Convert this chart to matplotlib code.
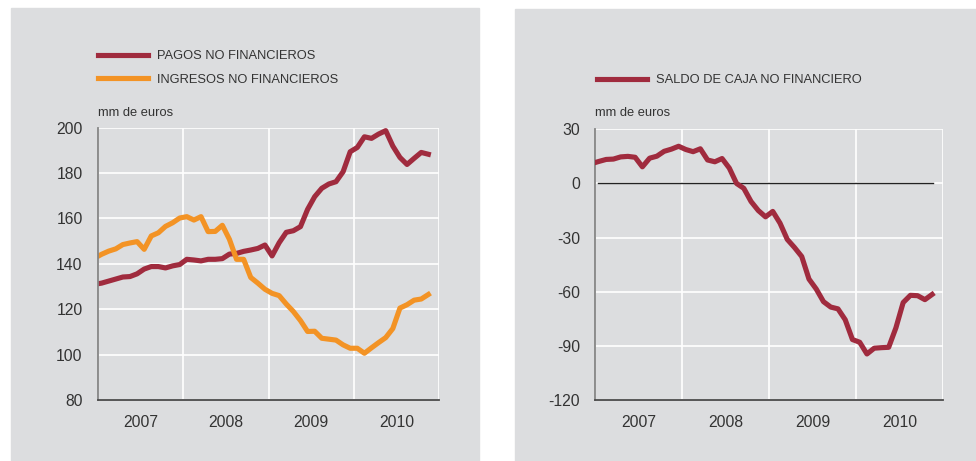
import matplotlib
matplotlib.use("Agg")
import matplotlib.pyplot as plt
from matplotlib.patches import Rectangle
import numpy as np

# monthly data, Dec 2006 .. Nov 2010 (mm de euros)
months = [f"{y}-{m:02d}" for y, m in [(2006, 12)] + [(y, m) for y in range(2007, 2011) for m in range(1, 13)]][:48]

pagos = [131.0,
         131.5, 132.4, 133.3, 134.2, 134.4, 135.6, 137.7, 138.8, 138.8, 138.2, 139.1, 139.7,
         142.0, 141.7, 141.3, 142.0, 142.0, 142.3, 144.3, 144.6, 145.5, 146.1, 146.8, 148.3,
         143.5, 149.3, 153.9, 154.6, 156.4, 164.0, 169.6, 173.3, 175.2, 176.2, 180.6, 189.4,
         191.3, 196.0, 195.3, 197.2, 198.7, 191.9, 186.9, 183.8, 186.5, 189.1, 188.3]

ingresos = [142.5,
            144.2, 145.6, 146.6, 148.5, 149.2, 149.8, 146.4, 152.3, 153.7, 156.5, 158.1, 160.2,
            160.8, 159.3, 160.8, 154.2, 154.3, 157.0, 150.8, 142.0, 142.0, 134.0, 131.5, 128.8,
            127.0, 126.0, 122.3, 119.0, 115.0, 110.2, 110.3, 107.2, 106.8, 106.4, 104.3, 102.8,
            102.8, 100.6, 103.0, 105.3, 107.5, 111.5, 120.5, 122.0, 124.0, 124.5, 126.5]

saldo = [11.0,
         12.2, 13.3, 13.5, 14.7, 15.0, 14.5, 9.2, 14.0, 15.1, 17.8, 19.0, 20.6,
         18.8, 17.6, 19.2, 13.0, 12.0, 13.8, 8.5, 0.0, -2.7, -10.0, -15.0, -18.5,
         -15.5, -22.0, -31.0, -35.5, -40.5, -53.0, -58.5, -65.5, -68.5, -69.5, -75.5, -86.5,
         -88.0, -94.5, -91.3, -91.0, -90.8, -80.0, -66.0, -62.0, -62.2, -64.4, -61.5]

years = ["2007", "2008", "2009", "2010"]
left_ticks = [80, 100, 120, 140, 160, 180, 200]
right_ticks = [-120, -90, -60, -30, 0, 30]

RED = "#A02B3E"
ORANGE = "#F39325"
PANEL = "#DCDDDF"
TEXT = "#333333"

plt.rcParams.update({
    "font.family": ["Liberation Sans", "DejaVu Sans"],
    "font.size": 11,
})

fig = plt.figure(figsize=(9.76, 4.61), dpi=100)
fig.patch.set_facecolor("white")
W, H = 976, 461
fig.patches.append(Rectangle((11 / W, 0), (479 - 11) / W, (461 - 8) / H,
                             transform=fig.transFigure, color=PANEL, zorder=-10))
fig.patches.append(Rectangle((515 / W, 0), (W - 515) / W, (461 - 9) / H,
                             transform=fig.transFigure, color=PANEL, zorder=-10))

x = np.arange(len(months)) - 0.5


def style_axes(ax, ticks):
    ax.set_facecolor("none")
    ax.set_xlim(0, 48)
    ax.set_ylim(ticks[0], ticks[-1])
    ax.set_yticks(ticks)
    ax.set_yticklabels([str(t) for t in ticks])
    ax.set_xticks([0, 12, 24, 36, 48])
    ax.set_xticklabels([])
    ax.set_xticks([6, 18, 30, 42], minor=True)
    ax.set_xticklabels(years, minor=True)
    ax.tick_params(axis="both", which="both", length=0, colors=TEXT, labelsize=11.3)
    ax.tick_params(axis="y", pad=11)
    ax.tick_params(axis="x", which="minor", pad=11)
    ax.grid(True, which="major", color="white", linewidth=1.2)
    ax.set_axisbelow(True)
    for s in ("top", "right"):
        ax.spines[s].set_visible(False)
    ax.spines["left"].set_color("#858585")
    ax.spines["left"].set_linewidth(1.3)
    ax.spines["bottom"].set_color("#4a4a4a")
    ax.spines["bottom"].set_linewidth(1.3)


# left panel
ax1 = fig.add_axes([98 / W, 1 - 400 / H, (439 - 98) / W, (400 - 127.7) / H])
style_axes(ax1, left_ticks)
ax1.plot(x, pagos, color=RED, linewidth=3.7, label="PAGOS NO FINANCIEROS")
ax1.plot(x, ingresos, color=ORANGE, linewidth=3.7, label="INGRESOS NO FINANCIEROS")
ax1.text(0, 1.055, "mm de euros", transform=ax1.transAxes, fontsize=9.3, color=TEXT,
         va="center", ha="left")
ax1.legend(loc="upper left", bbox_to_anchor=(98 / W, 1 - 50 / H), bbox_transform=fig.transFigure,
           frameon=False, fontsize=9.3, handlelength=3.9, handletextpad=0.7,
           labelspacing=0.92, borderpad=0, borderaxespad=0, labelcolor=TEXT)

# right panel
ax2 = fig.add_axes([595.3 / W, 1 - 400 / H, (943 - 595.3) / W, (400 - 129.3) / H])
style_axes(ax2, right_ticks)
ax2.axhline(0, xmin=0.008, xmax=0.972, color="#222222", linewidth=1.0, zorder=2)
ax2.plot(x, saldo, color=RED, linewidth=3.7, label="SALDO DE CAJA NO FINANCIERO", zorder=3)
ax2.text(0, 1.06, "mm de euros", transform=ax2.transAxes, fontsize=9.3, color=TEXT,
         va="center", ha="left")
ax2.legend(loc="upper left", bbox_to_anchor=(597 / W, 1 - 74 / H), bbox_transform=fig.transFigure,
           frameon=False, fontsize=9.3, handlelength=3.9, handletextpad=0.7,
           borderpad=0, borderaxespad=0, labelcolor=TEXT)

fig.savefig("out.png", dpi=100)
